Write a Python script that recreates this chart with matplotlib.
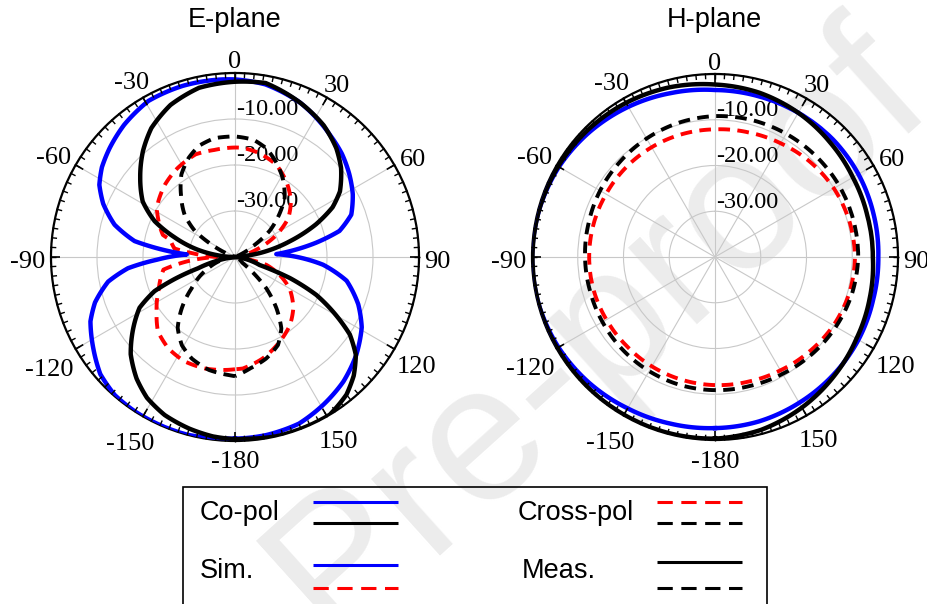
import numpy as np
import matplotlib.pyplot as plt
from matplotlib.lines import Line2D
from matplotlib.patches import Rectangle

# angle grid and labels shared by both plots
theta_ticks = np.arange(0, 360, 30)
theta_labels = ['0', '30', '60', '90', '120', '150', '-180', '-150', '-120', '-90', '-60', '-30']
r_ticks = [-30, -20, -10]

# E-plane, simulated co-pol (deg, dB)
e_sim_co_th = [-180, -176, -165, -155, -147, -139, -131, -123, -114, -108, -101, -96, -92, -87,
               -81, -75, -68, -62, -56, -49, -40, -29, -17, -4, 0, 10, 23, 38, 46, 54, 62, 70,
               76, 80, 86, 95, 102, 111, 119, 129, 139, 149, 159, 170, 180]
e_sim_co_db = [-0.5, -0.5, 0, 0, 0, -0.2, -1.2, -3.3, -5.6, -8.0, -11.9, -16.6, -23.0, -29.5,
               -17.9, -12.9, -9.1, -6.6, -5.1, -3.9, -2.5, -1.2, -1.1, -1.3, -1.4, -1.9, -3.6, -6.4,
               -7.7, -9.3, -11.0, -13.1, -16.6, -22.1, -31.0, -20.8, -15.2, -11.3, -8.5, -6.1,
               -4.1, -2.6, -1.2, -0.7, -0.5]

# E-plane, measured co-pol
e_meas_co_th = [-180, -173, -165, -156, -148, -141, -133, -126, -118, -113, -110, -107, -102, -96,
                -90, -84, -79, -72, -66, -59, -50, -41, -33, -23, -12, 0, 10, 23, 34, 43, 50, 58,
                63, 68, 74, 81, 86, 94, 100, 108, 111, 115, 120, 124, 129, 135, 141, 149, 157,
                167, 176, 180]
e_meas_co_db = [-0.4, -0.7, -1.4, -2.4, -3.9, -6.0, -9.0, -12.5, -16.5, -21.0, -26.1, -31.6, -36.0,
                -40, -40, -36.0, -31.8, -26.2, -20.9, -16.6, -13.1, -9.5, -6.6, -4.1, -2.4, -1.9,
                -1.6, -3.6, -5.5, -7.7, -9.9, -13.1, -16.2, -21.0, -27.6, -34.6, -40, -40, -38.0,
                -34.4, -27.2, -20.5, -14.6, -9.9, -6.2, -3.5, -1.5, 0, 0, 0, -0.4, -0.4]

# E-plane, simulated cross-pol
e_sim_x_th = [-180, -176, -165, -154, -144, -134, -125, -113, -100, -94, -90, -85, -82, -75, -73,
              -63, -59, -54, -44, -33, -21, -11, 0, 4, 13, 24, 34, 45, 54, 62, 71, 80, 90, 100,
              104, 112, 120, 131, 141, 152, 165, 176, 180]
e_sim_x_db = [-15.6, -15.4, -14.9, -14.8, -15.4, -16.7, -19.2, -22.0, -24.2, -30.9, -36.0, -30.8,
              -26.7, -25.4, -23.6, -21.2, -20.2, -19.4, -18.1, -17.0, -16.1, -16.3, -16.2, -16.2,
              -16.8, -18.0, -20.1, -22.8, -25.7, -29.8, -35.1, -39.0, -40, -37.0, -33.0, -29.5,
              -26.3, -23.2, -21.0, -19.2, -17.1, -15.7, -15.6]

# E-plane, measured cross-pol
e_meas_x_th = [-180, -177, -167, -157, -149, -141, -134, -126, -113, -100, -90, -70, -62, -57, -50,
               -41, -33, -25, -18, -10, 0, 9, 16, 23, 31, 40, 46, 53, 59, 68, 110, 128, 135, 141,
               147, 154, 163, 172, 180]
e_meas_x_db = [-14.1, -14.3, -14.8, -16.0, -17.6, -20.2, -23.9, -28.3, -33.6, -38.0, -40, -40,
               -34.2, -29.6, -25.7, -22.1, -18.6, -16.2, -14.6, -13.8, -13.8, -14.2, -15.4, -17.4,
               -19.9, -23.2, -26.6, -30.6, -35.5, -40, -40, -38.0, -30.4, -25.7, -21.5, -18.7,
               -16.9, -15.6, -14.1]

# H-plane curves, every 15 deg
h_th = list(range(-180, 181, 15))
h_sim_co_db = [-2.6, -2.3, -1.8, -1.1, -0.5, -0.1, 0, -0.2, -0.6, -1.3, -2.1, -2.9, -3.5,
               -3.6, -3.6, -3.6, -3.8, -4.1, -4.3, -4.2, -3.8, -3.5, -3.2, -2.8, -2.6]
h_meas_co_db = [-0.3, -0.2, -0.2, -0.2, -0.2, -0.1, -0.1, -0.2, -0.4, -0.7, -1.1, -1.6, -2.3,
                -2.8, -3.6, -4.5, -5.2, -5.5, -5.5, -5.0, -4.3, -3.2, -2.0, -0.9, -0.3]
h_sim_x_db = [-12.0, -12.2, -12.4, -12.6, -12.6, -12.5, -12.5, -12.5, -12.5, -12.4, -12.3, -12.2,
              -12.1, -11.8, -11.3, -10.6, -10.0, -9.6, -9.4, -9.6, -10.1, -10.8, -11.4, -11.8, -12.0]
h_meas_x_db = [-10.9, -11.0, -11.2, -11.4, -11.6, -11.7, -11.6, -11.4, -11.0, -10.6, -10.1, -9.6,
               -9.2, -9.0, -8.9, -8.8, -8.7, -8.7, -8.7, -9.0, -9.5, -10.0, -10.5, -10.8, -10.9]

W, H = 927, 604
fig = plt.figure(figsize=(W / 100, H / 100), dpi=100)


def fx(px):
    return px / W


def fy(py):
    return 1 - py / H


serif = 'Liberation Serif'
sans = 'Liberation Sans'

# faint watermark behind everything
fig.text(fx(330), fy(640), 'Pre-proof', rotation=42, rotation_mode='anchor',
         fontsize=140, family=sans, color='#ececec', ha='left', va='baseline', zorder=-5)

solid = dict(lw=3.2, solid_joinstyle='round')
dashed = dict(lw=2.8, dashes=(3, 1.9))


def polar_axes(cx, cy, r):
    ax = fig.add_axes([fx(cx - r), fy(cy + r), 2 * r / W, 2 * r / H], projection='polar')
    ax.set_facecolor('none')
    ax.set_theta_zero_location('N')
    ax.set_theta_direction(-1)
    ax.set_ylim(-40, 0)
    ax.set_yticks(r_ticks)
    ax.set_yticklabels([])
    ax.set_xticks(np.deg2rad(theta_ticks))
    ax.set_xticklabels([])
    ax.tick_params(axis='x', length=0)
    ax.grid(True, color='#c8c8c8', lw=0.8)
    ax.spines['polar'].set_linewidth(1.6)
    # tick marks around the rim: short every 3 deg, longer every 30 deg
    minor = np.deg2rad(np.arange(0, 360, 3))
    ax.vlines(minor, -1.1, 0.2, color='black', lw=1.0, clip_on=False, zorder=4)
    ax.vlines(np.deg2rad(theta_ticks), -1.9, 0.2, color='black', lw=1.2, clip_on=False, zorder=4)
    # angle labels sit just outside the rim, pushed out by their own half size
    for a, lab in zip(theta_ticks, theta_labels):
        s, c = np.sin(np.deg2rad(a)), np.cos(np.deg2rad(a))
        d = 7 + abs(s) * 5.5 * len(lab) + abs(c) * 9
        ax.annotate(lab, xy=(np.deg2rad(a), 0), xytext=(0.72 * d * s, 0.72 * (d * c - 3)),
                    textcoords='offset points', ha='center', va='center_baseline',
                    fontsize=19, family=serif, annotation_clip=False)
    for v in r_ticks:
        ax.annotate(f'{v:.2f}', xy=(0, v), xytext=(0.5, 6.5), textcoords='offset points',
                    ha='left', va='center', fontsize=17.5, family=serif, zorder=2)
    return ax


def curve(ax, th, db, **kw):
    ln, = ax.plot(np.deg2rad(th), db, zorder=3, **kw)
    # follow polar arcs between the read points instead of chords
    ln.get_path()._interpolation_steps = 12


ax_e = polar_axes(235, 257, 184)
curve(ax_e, e_sim_x_th, e_sim_x_db, color='red', **dashed)
curve(ax_e, e_meas_x_th, e_meas_x_db, color='black', **dashed)
curve(ax_e, e_sim_co_th, e_sim_co_db, color='blue', **solid)
curve(ax_e, e_meas_co_th, e_meas_co_db, color='black', **solid)

ax_h = polar_axes(715, 257, 183)
curve(ax_h, h_th, h_sim_x_db, color='red', **dashed)
curve(ax_h, h_th, h_meas_x_db, color='black', **dashed)
curve(ax_h, h_th, h_sim_co_db, color='blue', **solid)
curve(ax_h, h_th, h_meas_co_db, color='black', **solid)

fig.text(fx(235), fy(20), 'E-plane', ha='center', va='center', fontsize=19.5, family=sans)
fig.text(fx(714), fy(20), 'H-plane', ha='center', va='center', fontsize=19.5, family=sans)

# legend box, open at the bottom edge of the figure
fig.add_artist(Rectangle((fx(183), fy(640)), fx(767) - fx(183), fy(487) - fy(640),
                         transform=fig.transFigure, fill=False, ec='black', lw=1.2))

leg_solid = dict(lw=2.2, solid_capstyle='butt')
leg_dash = dict(lw=2.2, dashes=(5, 2.8), dash_capstyle='butt')
legend_rows = [
    (313, 398, 502, 'blue', leg_solid), (313, 398, 523, 'black', leg_solid),
    (313, 398, 565, 'blue', leg_solid), (313, 398, 588, 'red', leg_dash),
    (657, 742, 502, 'red', leg_dash), (657, 742, 523, 'black', leg_dash),
    (657, 742, 562, 'black', leg_solid), (657, 742, 588, 'black', leg_dash),
]
for x0, x1, y, c, st in legend_rows:
    fig.add_artist(Line2D([fx(x0), fx(x1)], [fy(y), fy(y)], transform=fig.transFigure,
                          color=c, **st))

for x, y, s in [(200, 513, 'Co-pol'), (200, 571, 'Sim.'), (518, 513, 'Cross-pol'), (522, 571, 'Meas.')]:
    fig.text(fx(x), fy(y), s, ha='left', va='center', fontsize=19.5, family=sans)

fig.savefig('out.png', dpi=100)
